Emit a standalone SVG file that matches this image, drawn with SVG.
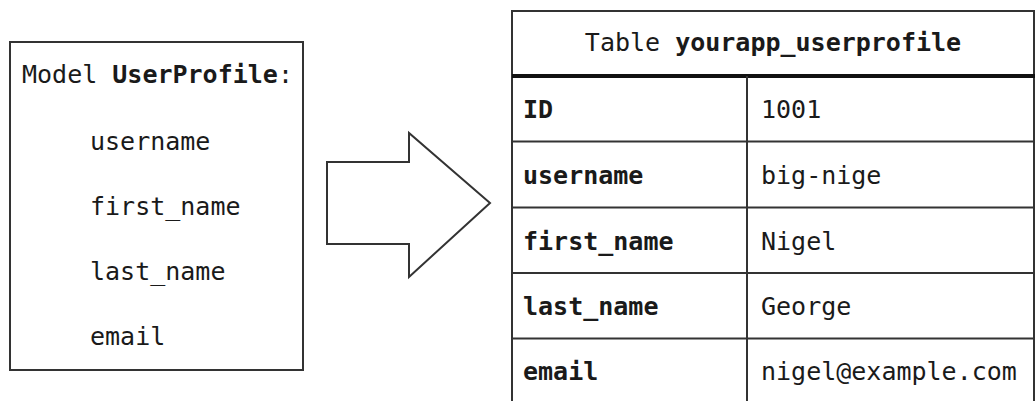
<svg xmlns="http://www.w3.org/2000/svg" width="1035" height="401" viewBox="0 0 1035 401">
<style>
text{font-family:"DejaVu Sans Mono","Liberation Mono",monospace;font-size:25px;fill:#1a1a1a}
.b{font-weight:bold}
.ln{stroke:#333;stroke-width:2;fill:none}
</style>
<rect width="1035" height="401" fill="#fff"/>
<g id="model">
<rect class="ln" x="10" y="42" width="293" height="328" fill="#fff"/>
<text x="22" y="83">Model <tspan class="b">UserProfile</tspan>:</text>
<text x="90" y="150">username</text>
<text x="90" y="215">first_name</text>
<text x="90" y="280">last_name</text>
<text x="90" y="345">email</text>
</g>
<g id="connectors">
<path class="ln" d="M327,162 H409 V133 L490,203 L409,277 V244 H327 Z" fill="#fff"/>
</g>
<g id="table">
<path class="ln" d="M512,402 V11 H1034 V402"/>
<line x1="512" y1="76" x2="1035" y2="76" stroke="#111" stroke-width="4"/>
<line class="ln" x1="747" y1="76" x2="747" y2="402"/>
<line class="ln" x1="512" y1="141.5" x2="1035" y2="141.5"/>
<line class="ln" x1="512" y1="207.5" x2="1035" y2="207.5"/>
<line class="ln" x1="512" y1="273" x2="1035" y2="273"/>
<line class="ln" x1="512" y1="338.5" x2="1035" y2="338.5"/>
<text x="773" y="51" text-anchor="middle">Table <tspan class="b">yourapp_userprofile</tspan></text>
<text class="b" x="523" y="118">ID</text>
<text x="761" y="118">1001</text>
<text class="b" x="523" y="184">username</text>
<text x="761" y="184">big-nige</text>
<text class="b" x="523" y="250">first_name</text>
<text x="761" y="250">Nigel</text>
<text class="b" x="523" y="315">last_name</text>
<text x="761" y="315">George</text>
<text class="b" x="523" y="380">email</text>
<text x="761" y="380">nigel@example.com</text>
</g>
</svg>
